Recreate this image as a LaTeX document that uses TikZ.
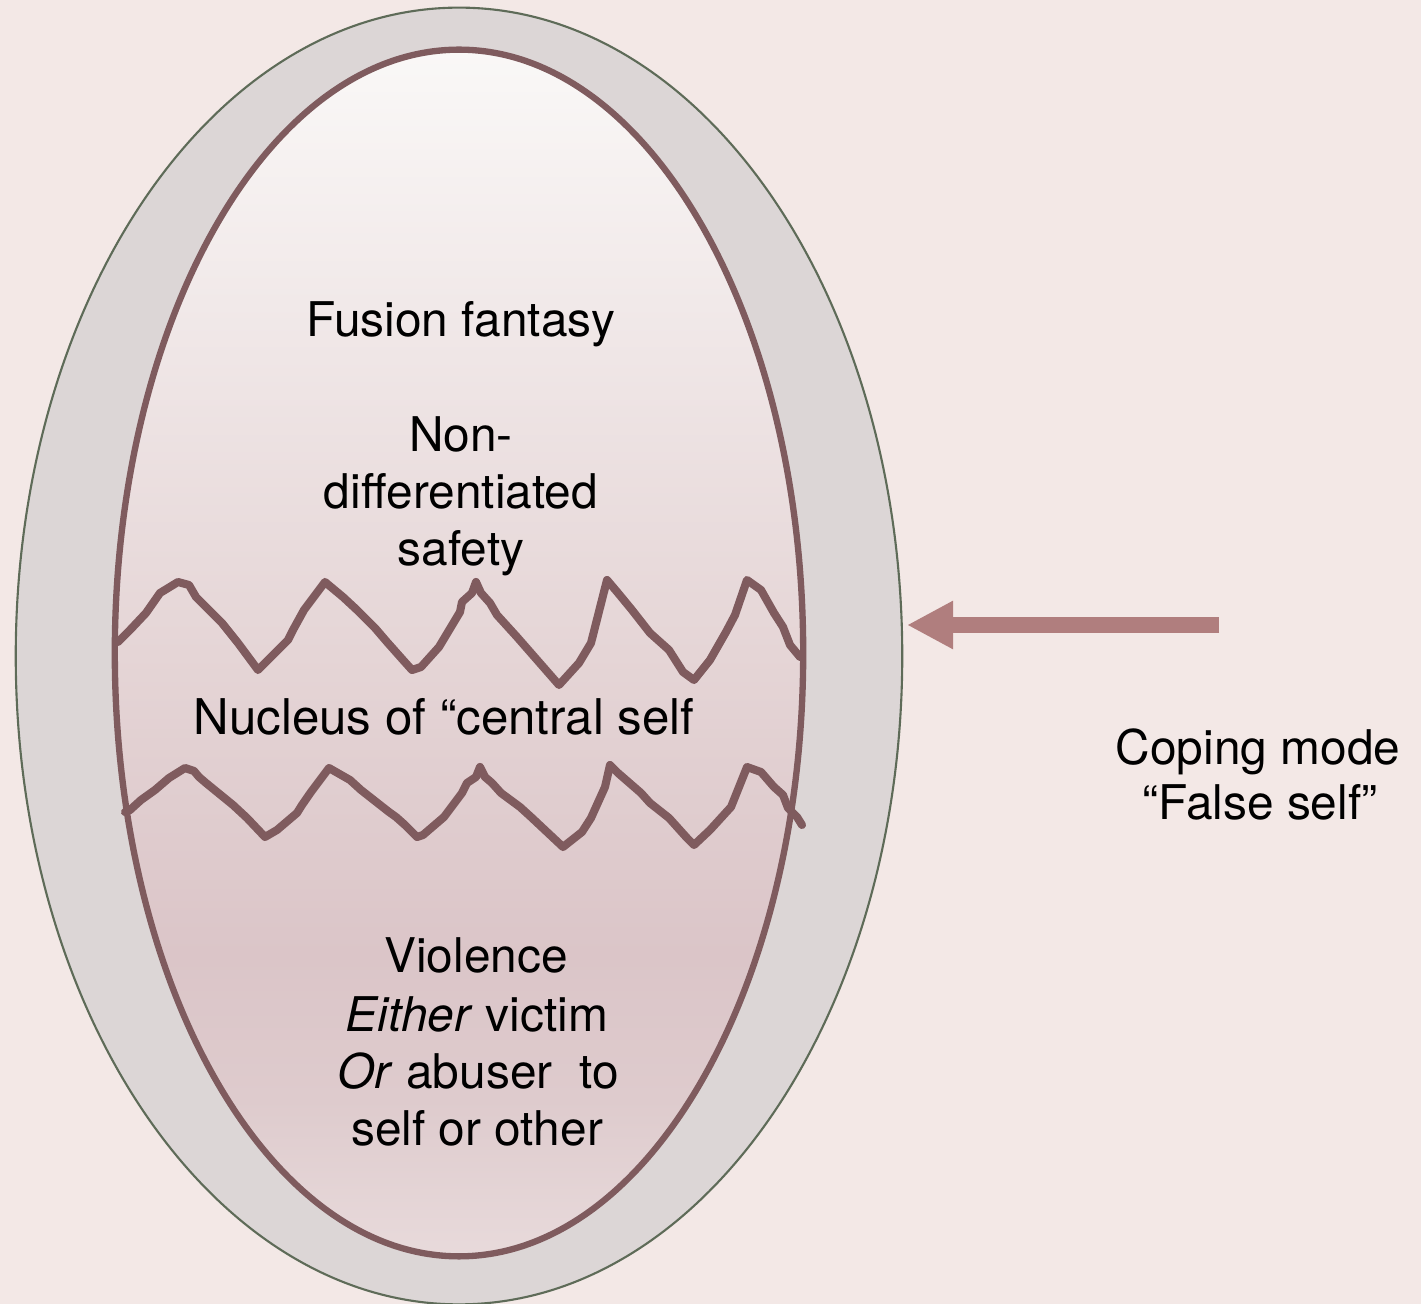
\documentclass[tikz,border=0pt]{standalone}
\usepackage{fontspec}
\setmainfont{TeX Gyre Heros}
\usetikzlibrary{arrows.meta}

\definecolor{bgpink}{HTML}{F3E8E6}
\definecolor{shellgray}{HTML}{DCD6D6}
\definecolor{shellline}{HTML}{5E6B58}
\definecolor{coreline}{HTML}{7F5B5E}
\definecolor{arrowrose}{HTML}{B07E7E}
\definecolor{coreA}{HTML}{E8DADB}
\definecolor{coreB}{HTML}{DECBCD}
\definecolor{coreC}{HTML}{DBC5C8}
\definecolor{coreD}{HTML}{E5D5D6}
\definecolor{coreE}{HTML}{F1E9E9}
\definecolor{coreF}{HTML}{FAF8F7}

% vertical fill of the inner core: light at the top, darkest low down
\pgfdeclareverticalshading{coreshade}{100bp}{%
  color(0bp)=(coreA); color(25bp)=(coreA); color(31.5bp)=(coreB);
  color(37.5bp)=(coreC); color(50bp)=(coreD); color(64.5bp)=(coreE);
  color(75bp)=(coreF); color(100bp)=(coreF)}

\begin{document}
\begin{tikzpicture}[x=0.01cm,y=-0.01cm,
  txt/.style={font=\fontsize{13.6}{16}\selectfont, anchor=base, inner sep=0pt},
  crack/.style={draw=coreline, line width=2.3pt, line join=round, line cap=round}]

\fill[bgpink] (0,0) rectangle (1421,1304);
\useasboundingbox (0,0) rectangle (1421,1304);

% outer shell
\draw[shellline, fill=shellgray, line width=0.6pt]
  (459,656) ellipse [x radius=4.43cm, y radius=6.48cm];

% inner core
\shade[shading=coreshade] (459,653) ellipse [x radius=3.44cm, y radius=6.03cm];
\draw[coreline, line width=1.8pt] (459,653) ellipse [x radius=3.44cm, y radius=6.03cm];

% upper crack
\draw[crack] (118,642) -- (130,630) -- (146,613) -- (160,593) -- (178,582)
  -- (189,585) -- (196,597) -- (222,623) -- (238,643) -- (258,670)
  -- (288,640) -- (293,630) -- (304,610) -- (325,582) -- (343,597)
  -- (357,610) -- (375,628) -- (387,642) -- (403,660) -- (412,670)
  -- (421,667) -- (439,647) -- (460,612) -- (462,602) -- (472,593)
  -- (476,582) -- (481,593) -- (490,603) -- (497,615) -- (517,637)
  -- (559,685) -- (579,663) -- (591,643) -- (607,580) -- (618,593)
  -- (632,610) -- (650,633) -- (669,650) -- (683,672) -- (694,680)
  -- (710,660) -- (726,632) -- (735,615) -- (747,580) -- (761,590)
  -- (774,613) -- (783,627) -- (790,645) -- (800,657);

% lower crack
\draw[crack] (125,812) -- (130,810) -- (141,800) -- (155,790) -- (169,778)
  -- (185,768) -- (194,771) -- (199,777) -- (206,783) -- (233,805)
  -- (247,818) -- (265,837) -- (277,830) -- (297,813) -- (302,805)
  -- (311,792) -- (329,768) -- (350,780) -- (361,790) -- (389,812)
  -- (396,817) -- (405,825) -- (417,837) -- (423,835) -- (444,817)
  -- (462,793) -- (467,783) -- (476,777) -- (480,767) -- (485,777)
  -- (492,783) -- (501,793) -- (520,807) -- (531,817) -- (563,847)
  -- (582,832) -- (591,818) -- (605,787) -- (610,765) -- (618,773)
  -- (641,793) -- (650,803) -- (669,818) -- (678,828) -- (687,838)
  -- (694,845) -- (710,830) -- (731,807) -- (747,767) -- (761,772)
  -- (774,787) -- (783,795) -- (788,808) -- (797,817) -- (802,825);

% coping-mode arrow
\coordinate (arrowtail) at (1219,625);
\coordinate (arrowtip) at (907,625);
\draw[arrowrose, line width=4.3pt, -{Triangle[length=0.46cm, width=0.45cm]}]
  (arrowtail) -- (arrowtip);

% labels
\node[txt] (fusion) at (461,337) {Fusion fantasy};
\node[txt] (nondiffA) at (461,452) {Non-};
\node[txt] (nondiffB) at (461,509) {differentiated};
\node[txt] (nondiffC) at (461,566) {safety};
\node[txt, font=\fontsize{14}{16}\selectfont] (nucleus) at (444,735) {Nucleus of “central self};
\node[txt] (violence) at (476,973) {Violence};
\node[txt] (either) at (477,1032) {\textit{Either} victim};
\node[txt] (orabuser) at (478,1089) {\textit{Or} abuser\ \ to};
\node[txt] (selfother) at (477,1146) {self or other};
\node[txt] (coping) at (1258,765) {Coping mode};
\node[txt] (falseself) at (1260,820) {“False self”};

\end{tikzpicture}
\end{document}
